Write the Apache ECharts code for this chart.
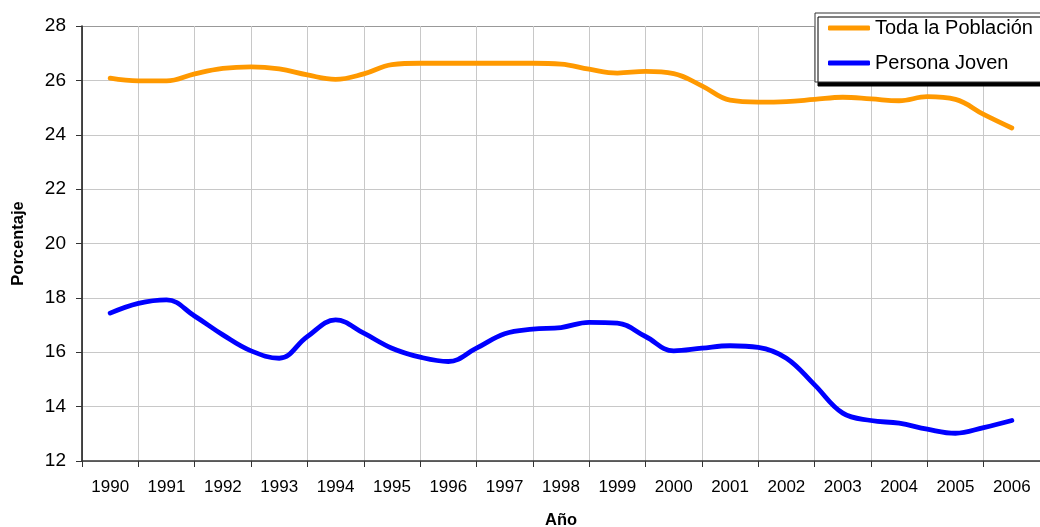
<!DOCTYPE html>
<html>
<head>
<meta charset="utf-8">
<script src="https://cdn.jsdelivr.net/npm/echarts@6/dist/echarts.min.js"></script>
<style>
html,body{margin:0;padding:0;background:#fff;}
#chart{width:1040px;height:527px;}
</style>
</head>
<body>
<div id="chart"></div>
<script>
const years = ['1990','1991','1992','1993','1994','1995','1996','1997','1998','1999','2000','2001','2002','2003','2004','2005','2006'];
const periods = [1990,1990.5,1991,1991.5,1992,1992.5,1993,1993.5,1994,1994.5,1995,1995.5,1996,1996.5,1997,1997.5,1998,1998.5,1999,1999.5,2000,2000.5,2001,2001.5,2002,2002.5,2003,2003.5,2004,2004.5,2005,2005.5,2006];
const todaPoblacion = [26.08,25.98,25.98,26.24,26.44,26.5,26.42,26.2,26.04,26.24,26.58,26.63,26.63,26.63,26.63,26.63,26.6,26.41,26.27,26.33,26.25,25.8,25.27,25.2,25.22,25.3,25.38,25.32,25.25,25.4,25.3,24.75,24.25];
const personaJoven = [17.44,17.8,17.93,17.33,16.64,16.05,15.78,16.58,17.19,16.7,16.15,15.82,15.66,16.15,16.68,16.85,16.91,17.1,17.07,16.58,16.05,16.15,16.24,16.18,15.78,14.8,13.76,13.49,13.39,13.17,13.02,13.23,13.49];
const seriesNames = ['Toda la Población','Persona Joven'];

const font = 'Liberation Sans, Arial, sans-serif';
const chart = echarts.init(document.getElementById('chart'), null, {renderer:'canvas'});
const pair = (vals) => vals.map((v,i) => [periods[i], v]);

chart.setOption({
  animation:false,
  backgroundColor:'#fff',
  grid:{left:82, right:0, top:26, bottom:66, containLabel:false, outerBoundsMode:'none'},
  legend:{
    orient:'vertical', left:815, top:13,
    data:seriesNames,
    backgroundColor:'#fff', borderColor:'#333', borderWidth:1,
    padding:[5,40,9,13], itemGap:15,
    itemWidth:42, itemHeight:5, icon:'roundRect',
    shadowColor:'#000', shadowBlur:0, shadowOffsetX:3, shadowOffsetY:4,
    textStyle:{fontFamily:font, fontSize:20, color:'#000', lineHeight:20}
  },
  xAxis:[{
    type:'category', data:years, boundaryGap:true,
    name:'Año', nameLocation:'middle', nameGap:51,
    nameTextStyle:{fontFamily:font, fontSize:16.5, fontWeight:'bold', color:'#000'},
    axisLine:{lineStyle:{color:'#333', width:1.5}},
    axisTick:{show:true, length:6, lineStyle:{color:'#333'}},
    axisLabel:{fontFamily:font, fontSize:17, color:'#000', margin:18},
    splitLine:{show:true, lineStyle:{color:'#c8c8c8', width:1}}
  },{
    type:'value', min:1989.5, max:2006.5, show:false
  }],
  yAxis:{
    type:'value', min:12, max:28, interval:2,
    name:'Porcentaje', nameLocation:'middle', nameGap:55, nameRotate:90,
    nameTextStyle:{fontFamily:font, fontSize:16.5, fontWeight:'bold', color:'#000'},
    axisLine:{show:true, lineStyle:{color:'#111', width:1.5}},
    axisTick:{show:true, length:6, lineStyle:{color:'#333'}},
    axisLabel:{fontFamily:font, fontSize:19, color:'#000', margin:16},
    splitLine:{show:true, lineStyle:{color:['#c8c8c8','#c8c8c8','#c8c8c8','#c8c8c8','#c8c8c8','#c8c8c8','#c8c8c8','#c8c8c8','#999'], width:1}}
  },
  series:[{
    name:seriesNames[0], type:'line', xAxisIndex:1, data:pair(todaPoblacion),
    smooth:0.4, showSymbol:false, symbol:'none',
    lineStyle:{color:'#FF9900', width:4.8, cap:'round'}, itemStyle:{color:'#FF9900'}
  },{
    name:seriesNames[1], type:'line', xAxisIndex:1, data:pair(personaJoven),
    smooth:0.4, showSymbol:false, symbol:'none',
    lineStyle:{color:'#0000FF', width:4.8, cap:'round'}, itemStyle:{color:'#0000FF'}
  }]
});
</script>
</body>
</html>
